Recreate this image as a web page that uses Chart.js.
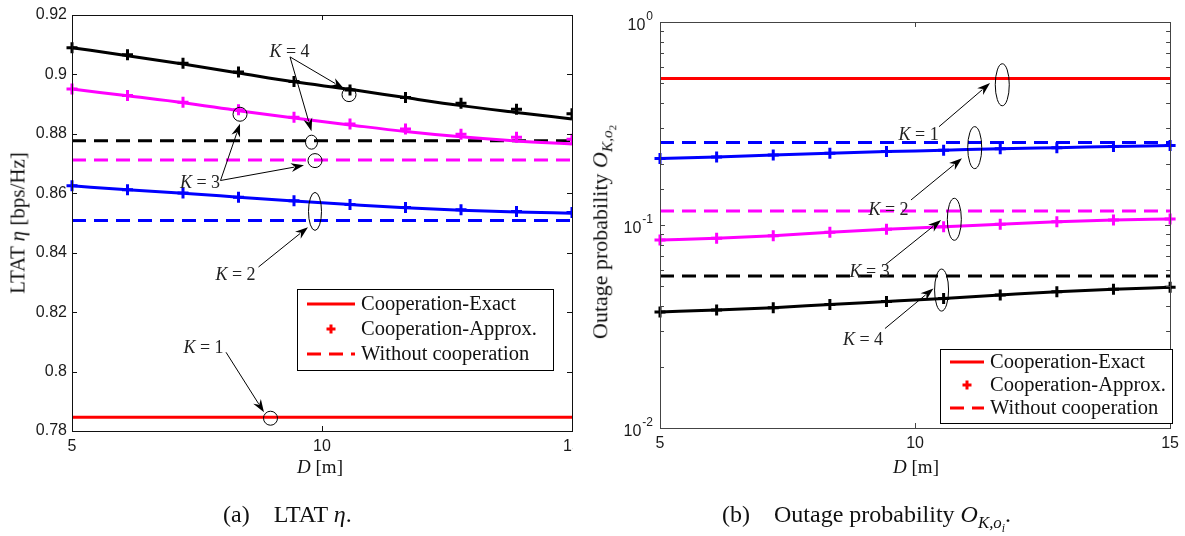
<!DOCTYPE html>
<html>
<head>
<meta charset="utf-8">
<script src="https://cdn.jsdelivr.net/npm/chart.js@4.4.1/dist/chart.umd.min.js"></script>
<style>
  body { margin: 0; background: #fff; width: 1185px; height: 536px; position: relative; overflow: hidden;
         font-family: "Liberation Serif", "DejaVu Serif", serif; color: #111; }
  #wrapA { position: absolute; left: 0; top: 0; width: 573px; height: 536px; overflow: hidden; }
  #wrapB { position: absolute; left: 590px; top: 0; width: 595px; height: 536px; }
  .lab { position: absolute; white-space: nowrap; font-size: 19px; transform: translate(-50%, -50%); }
  .rot { transform: translate(-50%, -50%) rotate(-90deg); font-size: 21px; }
  .cap { position: absolute; white-space: nowrap; font-size: 24px; top: 500px; line-height: 28px; }
  .gap { display: inline-block; width: 18px; }
  sub { font-size: 0.7em; }
</style>
</head>
<body>
<div id="wrapA"><canvas id="ltatChart" width="600" height="536"></canvas></div>
<div id="wrapB"><canvas id="outageChart" width="595" height="536"></canvas></div>

<div class="lab rot" style="left:18px; top:223px;">LTAT <i>η</i> [bps/Hz]</div>
<div class="lab" style="left:320px; top:467px;"><i>D</i> [m]</div>
<div class="lab rot" style="left:603px; top:232px; font-size:22px;">Outage probability <i>O</i><sub><i>K,o</i><sub>2</sub></sub></div>
<div class="lab" style="left:916px; top:467px;"><i>D</i> [m]</div>
<div class="cap" style="left:223px;">(a)<span class="gap"></span> LTAT <i>η</i>.</div>
<div class="cap" style="left:722px;">(b)<span class="gap"></span> Outage probability <i>O</i><sub><i>K,o<sub>i</sub></i></sub>.</div>

<script>
// distance D [m] where the approximations are evaluated
const distance = [5, 6.11, 7.22, 8.33, 9.44, 10.56, 11.67, 12.78, 13.89, 15];
const xTicks = [5, 10, 15];
const ltatTicks = [0.78, 0.8, 0.82, 0.84, 0.86, 0.88, 0.9, 0.92];
const legendLabels = ['Cooperation-Exact', 'Cooperation-Approx.', 'Without cooperation'];
const kColors = ['#ff0000', '#0000ff', '#ff00ff', '#000000'];   // K = 1..4

// (a) LTAT
const ltatExact1 = [0.7846, 0.7846, 0.7846, 0.7846, 0.7846, 0.7846, 0.7846, 0.7846, 0.7846, 0.7846];
const ltatExact2 = [0.8625, 0.8612, 0.8600, 0.8587, 0.8574, 0.8562, 0.8551, 0.8543, 0.8537, 0.8533];
const ltatExact3 = [0.8951, 0.8928, 0.8905, 0.8878, 0.8853, 0.8830, 0.8808, 0.8790, 0.8776, 0.8766];
const ltatExact4 = [0.9090, 0.9063, 0.9035, 0.9005, 0.8975, 0.8950, 0.8922, 0.8895, 0.8872, 0.8850];
const ltatApprox2 = [0.8625, 0.8612, 0.8601, 0.8587, 0.8575, 0.8562, 0.8552, 0.8545, 0.8539, 0.8535];
const ltatApprox3 = [0.8951, 0.8929, 0.8906, 0.8881, 0.8856, 0.8833, 0.8816, 0.8799, 0.8789, 0.8782];
const ltatApprox4 = [0.9090, 0.9066, 0.9038, 0.9008, 0.8976, 0.8948, 0.8922, 0.8903, 0.8883, 0.8868];
const ltatNoCoop = [0.7846, 0.8508, 0.8712, 0.8777];            // K = 1..4

// (b) outage probability
const outExact1 = [0.527, 0.527, 0.527, 0.527, 0.527, 0.527, 0.527, 0.527, 0.527, 0.527];
const outExact2 = [0.2124, 0.2165, 0.2215, 0.2258, 0.2299, 0.2336, 0.2378, 0.2405, 0.2433, 0.2461];
const outExact3 = [0.0843, 0.0860, 0.0886, 0.0920, 0.0952, 0.0981, 0.1008, 0.1038, 0.1058, 0.1070];
const outExact4 = [0.0373, 0.0381, 0.0391, 0.0406, 0.0420, 0.0435, 0.0452, 0.0469, 0.0482, 0.0493];
const outApprox2 = [0.2124, 0.2165, 0.2215, 0.2258, 0.2299, 0.2336, 0.2378, 0.2405, 0.2433, 0.2461];
const outApprox3 = [0.0843, 0.0860, 0.0886, 0.0920, 0.0952, 0.0981, 0.1008, 0.1038, 0.1058, 0.1070];
const outApprox4 = [0.0373, 0.0381, 0.0391, 0.0406, 0.0420, 0.0435, 0.0452, 0.0469, 0.0482, 0.0493];
const outNoCoop = [0.527, 0.2547, 0.1172, 0.0560];

function pts(vals) { return distance.map((d, i) => ({x: d, y: vals[i]})); }

function exactSet(vals, color) {
  return {data: pts(vals), borderColor: color, borderWidth: 3, pointRadius: 0,
          cubicInterpolationMode: 'monotone', order: 1, clip: false};
}
function approxSet(vals, color) {
  return {data: pts(vals), showLine: false, pointStyle: 'cross', pointRadius: 5.5,
          pointBorderWidth: 3, borderColor: color, backgroundColor: color, order: 0, clip: false};
}
function noCoopSet(v, color) {
  return {data: [{x: distance[0], y: v}, {x: distance[distance.length - 1], y: v}],
          borderColor: color, borderWidth: 3, borderDash: [14, 8], pointRadius: 0, order: 2, clip: false};
}

function isPow10(v) { const l = Math.log10(v); return Math.abs(l - Math.round(l)) < 1e-6; }

function line(ctx, x0, y0, x1, y1) { ctx.beginPath(); ctx.moveTo(x0, y0); ctx.lineTo(x1, y1); ctx.stroke(); }

function arrow(ctx, x0, y0, x1, y1) {
  const ang = Math.atan2(y1 - y0, x1 - x0), L = 13, W = 4.5;
  const bx = x1 - L * Math.cos(ang), by = y1 - L * Math.sin(ang);
  line(ctx, x0, y0, bx + 3 * Math.cos(ang), by + 3 * Math.sin(ang));
  ctx.beginPath();
  ctx.moveTo(x1, y1);
  ctx.lineTo(bx - W * Math.sin(ang), by + W * Math.cos(ang));
  ctx.lineTo(bx + 4 * Math.cos(ang), by + 4 * Math.sin(ang));
  ctx.lineTo(bx + W * Math.sin(ang), by - W * Math.cos(ang));
  ctx.closePath();
  ctx.fill();
}

function kText(ctx, k, x, y) {
  ctx.font = 'italic 18px "Liberation Serif"';
  const w1 = ctx.measureText('K').width;
  ctx.font = '18px "Liberation Serif"';
  const rest = ' = ' + k, w2 = ctx.measureText(rest).width;
  const x0 = x - (w1 + w2) / 2;
  ctx.textBaseline = 'middle'; ctx.textAlign = 'left';
  ctx.font = 'italic 18px "Liberation Serif"';
  ctx.fillText('K', x0, y);
  ctx.font = '18px "Liberation Serif"';
  ctx.fillText(rest, x0 + w1, y);
}

// box, inward ticks, power-of-ten labels, annotations, legend
const framePlugin = {
  id: 'frame',
  afterDraw(chart, args, o) {
    const ctx = chart.ctx, a = chart.chartArea, xs = chart.scales.x, ys = chart.scales.y;
    ctx.save();
    ctx.strokeStyle = o.frameColor; ctx.lineWidth = 1;
    ctx.strokeRect(Math.round(a.left) + 0.5, Math.round(a.top) + 0.5,
                   Math.round(a.right - a.left), Math.round(a.bottom - a.top));
    xs.ticks.forEach(t => {
      const p = Math.round(xs.getPixelForValue(t.value)) + 0.5;
      line(ctx, p, a.bottom, p, a.bottom - 5);
      line(ctx, p, a.top, p, a.top + 5);
    });
    ys.ticks.forEach(t => {
      const p = Math.round(ys.getPixelForValue(t.value)) + 0.5;
      const len = (ys.type === 'logarithmic' && !isPow10(t.value)) ? 4 : 5;
      line(ctx, a.left, p, a.left + len, p);
      line(ctx, a.right, p, a.right - len, p);
    });
    if (o.logLabels) {
      ctx.fillStyle = '#1a1a1a';
      ys.ticks.filter(t => isPow10(t.value)).forEach(t => {
        const p = ys.getPixelForValue(t.value);
        const sup = String(Math.round(Math.log10(t.value)));
        ctx.font = '12px "Liberation Sans"';
        const sw = ctx.measureText(sup).width;
        const right = a.left - 7;
        ctx.textAlign = 'right'; ctx.textBaseline = 'middle';
        ctx.fillText(sup, right, p - 5);
        ctx.font = '16px "Liberation Sans"';
        ctx.fillText('10', right - sw - 1, p + 4);
      });
    }
    // annotations
    const n = o.notes;
    ctx.strokeStyle = '#000'; ctx.fillStyle = '#000'; ctx.lineWidth = 1;
    n.rings.forEach(r => {
      ctx.beginPath();
      ctx.ellipse(xs.getPixelForValue(r[0]), ys.getPixelForValue(r[1]), r[2], r[3], 0, 0, Math.PI * 2);
      ctx.stroke();
    });
    n.arrows.forEach(r => arrow(ctx, xs.getPixelForValue(r[0]), ys.getPixelForValue(r[1]),
                                     xs.getPixelForValue(r[2]), ys.getPixelForValue(r[3])));
    ctx.fillStyle = '#222';
    n.texts.forEach(r => kText(ctx, r[0], xs.getPixelForValue(r[1]), ys.getPixelForValue(r[2])));
    // legend
    const g = o.legend;
    ctx.fillStyle = '#fff';
    ctx.fillRect(g.x, g.y, g.w, g.h);
    ctx.strokeStyle = '#000'; ctx.lineWidth = 1;
    ctx.strokeRect(g.x + 0.5, g.y + 0.5, g.w, g.h);
    ctx.strokeStyle = kColors[0]; ctx.lineWidth = 3;
    line(ctx, g.x + g.line[0], g.y + g.rows[0], g.x + g.line[1], g.y + g.rows[0]);
    const cx = g.x + (g.line[0] + g.line[1]) / 2, cy = g.y + g.rows[1];
    line(ctx, cx - 4.5, cy, cx + 4.5, cy); line(ctx, cx, cy - 4.5, cx, cy + 4.5);
    ctx.setLineDash([14, 8]);
    line(ctx, g.x + g.line[0], g.y + g.rows[2], g.x + g.line[1], g.y + g.rows[2]);
    ctx.setLineDash([]);
    ctx.fillStyle = '#111'; ctx.font = '20.5px "Liberation Serif"';
    ctx.textAlign = 'left'; ctx.textBaseline = 'middle';
    legendLabels.forEach((s, i) => ctx.fillText(s, g.x + g.text, g.y + g.rows[i] + 1));
    ctx.restore();
  }
};

const tickFont = {family: 'Liberation Sans', size: 16};

function xAxis(height) {
  return {
    type: 'linear', min: 5, max: 15,
    afterBuildTicks: s => { s.ticks = xTicks.map(v => ({value: v})); },
    afterFit: s => { s.height = height; },
    grid: {display: false, drawTicks: false}, border: {display: false},
    ticks: {font: tickFont, color: '#1a1a1a', padding: 6, maxRotation: 0}
  };
}

const common = {
  responsive: false, animation: false, events: [],
  plugins: {legend: {display: false}, tooltip: {enabled: false}}
};

new Chart(document.getElementById('ltatChart'), {
  type: 'line',
  data: {datasets: [
    noCoopSet(ltatNoCoop[1], kColors[1]), noCoopSet(ltatNoCoop[2], kColors[2]), noCoopSet(ltatNoCoop[3], kColors[3]),
    exactSet(ltatExact1, kColors[0]), exactSet(ltatExact2, kColors[1]),
    exactSet(ltatExact3, kColors[2]), exactSet(ltatExact4, kColors[3]),
    approxSet(ltatApprox2, kColors[1]), approxSet(ltatApprox3, kColors[2]), approxSet(ltatApprox4, kColors[3])
  ]},
  options: {
    ...common,
    layout: {padding: {left: 0, right: 28, top: 15, bottom: 0}},
    scales: {
      x: xAxis(105),
      y: {
        type: 'linear', min: 0.78, max: 0.92,
        afterBuildTicks: s => { s.ticks = ltatTicks.map(v => ({value: v})); },
        afterFit: s => { s.width = 72; },
        grid: {display: false, drawTicks: false}, border: {display: false},
        ticks: {font: tickFont, color: '#1a1a1a', padding: 5, callback: v => String(+v.toFixed(2))}
      }
    },
    plugins: {
      ...common.plugins,
      frame: {
        frameColor: '#111',
        legend: {x: 297, y: 289, w: 256, h: 81, rows: [15, 40, 65], line: [10, 58], text: 64},
        notes: {
          texts: [[4, 9.35, 0.9075], [3, 7.56, 0.8634], [2, 8.27, 0.8324], [1, 7.63, 0.8080]],
          arrows: [[9.36, 0.9059, 10.44, 0.8952], [9.36, 0.9059, 9.79, 0.8809],
                   [7.97, 0.8643, 8.36, 0.8834], [7.97, 0.8643, 9.64, 0.8694],
                   [8.73, 0.8352, 9.72, 0.8486], [8.08, 0.8065, 8.84, 0.7863]],
          rings: [[10.54, 0.8932, 7, 7], [9.79, 0.8772, 6, 7], [8.36, 0.8866, 7, 7],
                  [9.86, 0.8710, 7, 7], [9.86, 0.8539, 6.5, 19], [8.97, 0.7843, 7, 7]]
        }
      }
    }
  },
  plugins: [framePlugin]
});

new Chart(document.getElementById('outageChart'), {
  type: 'line',
  data: {datasets: [
    noCoopSet(outNoCoop[1], kColors[1]), noCoopSet(outNoCoop[2], kColors[2]), noCoopSet(outNoCoop[3], kColors[3]),
    exactSet(outExact1, kColors[0]), exactSet(outExact2, kColors[1]),
    exactSet(outExact3, kColors[2]), exactSet(outExact4, kColors[3]),
    approxSet(outApprox2, kColors[1]), approxSet(outApprox3, kColors[2]), approxSet(outApprox4, kColors[3])
  ]},
  options: {
    ...common,
    layout: {padding: {left: 0, right: 12, top: 22, bottom: 0}},
    scales: {
      x: xAxis(108),
      y: {
        type: 'logarithmic', min: 0.01, max: 1,
        afterFit: s => { s.width = 70; },
        grid: {display: false, drawTicks: false}, border: {display: false},
        ticks: {display: false}
      }
    },
    plugins: {
      ...common.plugins,
      frame: {
        frameColor: '#444', logLabels: true,
        legend: {x: 350, y: 349, w: 232, h: 74, rows: [13, 36, 59], line: [10, 44], text: 50},
        notes: {
          texts: [[1, 10.07, 0.278], [2, 9.48, 0.1186], [3, 9.11, 0.0588], [4, 8.98, 0.0271]],
          arrows: [[10.47, 0.305, 11.47, 0.50], [9.92, 0.1328, 10.92, 0.2134],
                   [9.41, 0.0635, 10.51, 0.1058], [9.41, 0.0309, 10.36, 0.0487]],
          rings: [[11.71, 0.4907, 7, 21], [11.17, 0.2405, 7, 21], [10.77, 0.1067, 7, 21], [10.52, 0.0478, 7, 21]]
        }
      }
    }
  },
  plugins: [framePlugin]
});
</script>
</body>
</html>
